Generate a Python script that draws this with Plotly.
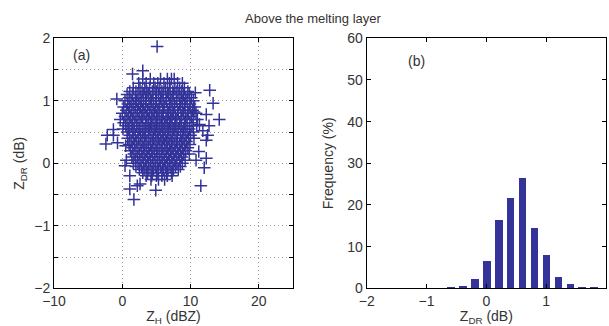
import plotly.graph_objects as go

# ---------- data ----------
# panel (a): scatter cloud, read row by row (ZDR level, ZH positions)
zdr_rows = [1.35, 1.28, 1.21, 1.15, 1.10, 1.05, 1.00, 0.95, 0.90, 0.85, 0.80, 0.75,
            0.70, 0.65, 0.60, 0.55, 0.50, 0.45, 0.40, 0.35, 0.30, 0.25, 0.20, 0.15,
            0.10, 0.05, 0.00, -0.05, -0.10, -0.15, -0.20, -0.26]
zh_rows = [
    [3.0, 4.1, 5.6, 6.6, 7.2, 7.6],
    [2.4, 3.5, 4.6, 5.2, 6.1, 6.9, 8.1, 8.8],
    [1.6, 2.6, 3.3, 4.0, 4.8, 5.5, 6.3, 7.0, 7.7, 8.4, 9.1],
    [1.1, 2.0, 2.9, 3.6, 4.4, 5.0, 5.8, 6.6, 7.4, 8.0, 8.7, 9.6],
    [0.7, 1.5, 2.3, 3.1, 3.8, 4.5, 5.3, 6.0, 6.8, 7.5, 8.3, 9.0, 9.8],
    [1.0, 1.9, 2.6, 3.4, 4.1, 4.9, 5.6, 6.4, 7.1, 7.9, 8.6, 9.3, 10.1],
    [0.4, 1.3, 2.1, 2.8, 3.5, 4.3, 5.0, 5.8, 6.5, 7.3, 8.0, 8.8, 9.5, 10.4],
    [0.8, 1.6, 2.4, 3.1, 3.9, 4.6, 5.4, 6.1, 6.9, 7.6, 8.4, 9.1, 9.9],
    [0.2, 1.1, 1.9, 2.7, 3.4, 4.2, 4.9, 5.5, 6.2, 7.0, 7.7, 8.5, 9.2, 10.0, 10.6],
    [0.6, 1.4, 2.2, 3.0, 3.7, 4.5, 5.2, 5.9, 6.6, 7.3, 8.1, 8.8, 9.6, 10.3],
    [0.0, 0.9, 1.7, 2.5, 3.2, 4.0, 4.7, 5.4, 6.0, 6.8, 7.5, 8.2, 9.0, 9.7, 10.8],
    [0.4, 1.2, 2.0, 2.8, 3.5, 4.3, 5.0, 5.7, 6.4, 7.1, 7.8, 8.6, 9.3, 10.1],
    [-0.3, 0.7, 1.5, 2.3, 3.0, 3.8, 4.5, 5.2, 5.9, 6.6, 7.3, 8.0, 8.7, 9.5, 10.4, 11.0],
    [0.2, 1.0, 1.8, 2.6, 3.4, 4.1, 4.8, 5.5, 6.2, 6.9, 7.7, 8.4, 9.1, 9.9],
    [0.5, 1.3, 2.1, 2.9, 3.6, 4.3, 5.0, 5.7, 6.4, 7.1, 7.8, 8.6, 9.3, 10.2, 10.9],
    [0.1, 0.9, 1.7, 2.5, 3.2, 4.0, 4.7, 5.4, 6.1, 6.8, 7.5, 8.2, 9.0, 9.8],
    [0.7, 1.5, 2.3, 3.0, 3.8, 4.5, 5.2, 5.9, 6.6, 7.3, 8.0, 8.8, 9.5, 10.4],
    [1.1, 1.9, 2.7, 3.4, 4.2, 4.9, 5.6, 6.3, 7.0, 7.7, 8.5, 9.2, 10.0],
    [0.8, 1.6, 2.4, 3.2, 3.9, 4.6, 5.3, 6.0, 6.7, 7.4, 8.1, 8.9, 9.7, 10.5],
    [1.3, 2.1, 2.9, 3.6, 4.4, 5.1, 5.8, 6.5, 7.2, 7.9, 8.7, 9.4],
    [1.0, 1.8, 2.6, 3.3, 4.1, 4.8, 5.5, 6.2, 6.9, 7.6, 8.4, 9.1, 9.9],
    [1.5, 2.3, 3.1, 3.8, 4.5, 5.2, 5.9, 6.6, 7.3, 8.1, 8.8, 9.6],
    [1.2, 2.0, 2.8, 3.5, 4.3, 5.0, 5.7, 6.4, 7.1, 7.8, 8.5, 9.3],
    [1.7, 2.5, 3.2, 4.0, 4.7, 5.4, 6.1, 6.8, 7.5, 8.2, 9.0, 9.8],
    [1.4, 2.2, 2.9, 3.7, 4.4, 5.1, 5.8, 6.5, 7.2, 7.9, 8.7],
    [1.9, 2.6, 3.4, 4.1, 4.8, 5.5, 6.2, 6.9, 7.6, 8.4, 9.2],
    [1.6, 2.3, 3.1, 3.8, 4.5, 5.2, 5.9, 6.6, 7.3, 8.0, 8.8],
    [2.0, 2.8, 3.5, 4.2, 4.9, 5.6, 6.3, 7.0, 7.8, 8.5],
    [2.5, 3.2, 3.9, 4.6, 5.3, 6.0, 6.7, 7.5, 8.2],
    [3.0, 3.7, 4.4, 5.1, 5.8, 6.5, 7.2],
    [3.5, 4.3, 5.0, 5.8, 6.6, 7.3],
    [4.2, 5.3, 6.2],
]
# isolated points around the cloud
zh_out = [5.1, 1.5, 3.0, -0.8, 12.8, 10.7, 13.3, 14.2, 12.3, 12.7, 12.5, 12.3,
          -2.4, -2.2, -1.3, -0.7, -1.3, 11.2, 12.3, 10.8, 12.0, 11.5, 0.4, 0.6,
          1.1, 1.1, 1.7, 2.2, 2.6, 4.9, 0.5, 11.3, 11.8, 10.5]
zdr_out = [1.87, 1.43, 1.48, 1.03, 1.17, 1.13, 0.96, 0.70, 0.78, 0.60, 0.45, 0.37,
           0.31, 0.45, 0.54, 0.33, 0.45, 0.19, 0.08, 0.05, -0.07, -0.36, -0.04, 0.05,
           -0.20, -0.41, -0.58, -0.36, -0.33, -0.43, 0.28, 0.62, 0.52, 0.82]

# panel (b): ZDR histogram
zdr_bins = [-2.0, -1.8, -1.6, -1.4, -1.2, -1.0, -0.8, -0.6, -0.4, -0.2, 0.0,
            0.2, 0.4, 0.6, 0.8, 1.0, 1.2, 1.4, 1.6, 1.8, 2.0]
freq = [0, 0, 0, 0, 0, 0, 0, 0.1, 0.5, 2.2, 6.6,
        16.4, 21.5, 26.5, 14.3, 8.0, 2.7, 1.0, 0.1, 0.1, 0]

# ---------- figure ----------
zh_all, zdr_all = [], []
for yv, xs in zip(zdr_rows, zh_rows):
    zh_all += xs
    zdr_all += [yv] * len(xs)
zh_all += zh_out
zdr_all += zdr_out

blue = "#333399"
txt = "#333333"
font = dict(family="Liberation Sans, Arial, sans-serif", size=14, color=txt)
tfont = dict(family="Liberation Sans, Arial, sans-serif", size=13, color=txt)

fig = go.Figure()
fig.add_trace(go.Scatter(
    x=zh_all, y=zdr_all, mode="markers", xaxis="x", yaxis="y",
    marker=dict(symbol="cross-thin", size=9, line=dict(color=blue, width=1.5)),
    showlegend=False, hoverinfo="skip"))
fig.add_trace(go.Bar(
    x=zdr_bins, y=freq, xaxis="x2", yaxis="y2", width=0.13,
    marker=dict(color=blue, line=dict(width=0)), showlegend=False))

ax_common = dict(showline=True, linecolor="black", linewidth=1, mirror="ticks",
                 ticks="inside", ticklen=4, tickcolor="black", zeroline=False,
                 tickfont=font, automargin=False)

yt = [-2, -1.5, -1, -0.5, 0, 0.5, 1, 1.5, 2]
ytt = ["\u22122", "", "\u22121", "", "0", "", "1", "", "2"]
grid = dict(showgrid=True, gridcolor="#9a9a9a", griddash="1px,3px", gridwidth=1)

fig.update_layout(
    width=609, height=326, margin=dict(l=0, r=0, t=0, b=0, autoexpand=False),
    paper_bgcolor="white", plot_bgcolor="white", font=font,
    bargap=0,
    xaxis=dict(domain=[54 / 609, 293 / 609], range=[-10, 25], tickvals=[-10, 0, 10, 20],
               ticktext=["\u221210", "0", "10", "20"], anchor="y",
               title=dict(text="Z<sub>H</sub> (dBZ)", font=font, standoff=0),
               **grid, **ax_common),
    yaxis=dict(domain=[37.7 / 326, 287.7 / 326], range=[-2, 2], tickvals=yt, ticktext=ytt,
               anchor="x",
               title=dict(text="Z<sub>DR</sub> (dB)", font=font, standoff=6),
               **grid, **ax_common),
    xaxis2=dict(domain=[366.7 / 609, 606 / 609], range=[-2, 2], tickvals=[-2, -1, 0, 1, 2],
                ticktext=["\u22122", "\u22121", "0", "1", "2"], anchor="y2",
                showgrid=False,
                title=dict(text="Z<sub>DR</sub> (dB)", font=font, standoff=0),
                **ax_common),
    yaxis2=dict(domain=[37.7 / 326, 287.7 / 326], range=[0, 60],
                tickvals=[0, 10, 20, 30, 40, 50, 60],
                anchor="x2", showgrid=False,
                title=dict(text="Frequency (%)", font=font, standoff=10),
                **ax_common),
    annotations=[
        dict(text="Above the melting layer", x=313 / 609, y=1 - 18 / 326,
             xref="paper", yref="paper", yanchor="middle",
             showarrow=False, font=tfont),
        dict(text="(a)", x=-7.5, y=1.73, xref="x", yref="y", showarrow=False,
             xanchor="left", font=font),
        dict(text="(b)", x=-1.35, y=54.5, xref="x2", yref="y2", showarrow=False,
             xanchor="left", font=font),
    ],
)

fig.write_html("out.html", config={"displayModeBar": False},
               post_script="document.body.style.margin='0';document.body.style.overflow='hidden';")
